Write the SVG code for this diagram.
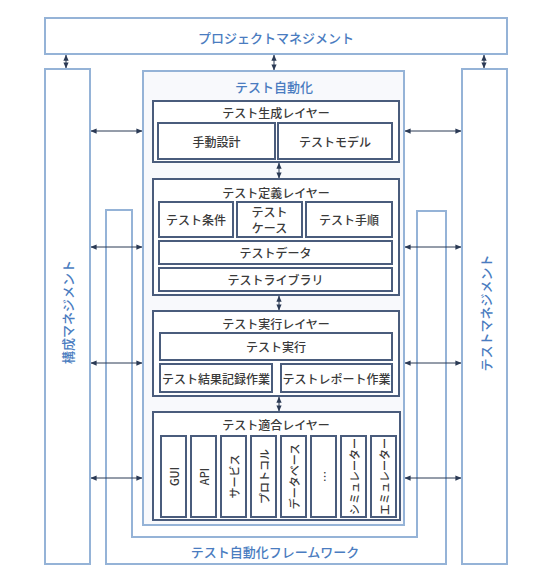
<svg xmlns="http://www.w3.org/2000/svg" width="550" height="579" viewBox="0 0 550 579">
<defs>
<style>
.blue{fill:#fff;stroke:#95b3d7;stroke-width:2}
.auto{fill:#f8f9fc;stroke:#95b3d7;stroke-width:2}
.dark{fill:#fff;stroke:#4a5c7c;stroke-width:2}
.bt{font-family:"Noto Sans CJK JP","Noto Sans",sans-serif;font-size:13px;fill:#4a7cc0;text-anchor:middle;dominant-baseline:central;font-weight:500}
.t{font-family:"Noto Sans CJK JP","Noto Sans",sans-serif;font-size:12px;fill:#3a3a3a;text-anchor:middle;dominant-baseline:central;font-weight:500}
.vt{font-family:"Noto Sans CJK JP","Noto Sans",sans-serif;font-size:11px;fill:#3a3a3a;text-anchor:middle;dominant-baseline:central;font-weight:500}
.c{stroke:#2b3a55;stroke-width:1;fill:none;marker-start:url(#ah);marker-end:url(#ah)}
</style>
<marker id="ah" viewBox="0 0 8 8" refX="7.5" refY="4" markerWidth="6" markerHeight="6" markerUnits="userSpaceOnUse" orient="auto-start-reverse">
<path d="M0,0.5 L8,4 L0,7.5 Z" fill="#2b3a55"/>
</marker>
</defs>
<rect width="550" height="579" fill="#fff"/>

<g id="project-management">
<rect class="blue" x="45" y="18" width="462" height="36"/>
<text class="bt" x="276" y="37">プロジェクトマネジメント</text>
</g>

<g id="configuration-management">
<rect class="blue" x="45" y="69" width="45" height="495"/>
<text class="bt" transform="translate(67,312) rotate(-90)">構成マネジメント</text>
</g>

<g id="test-management">
<rect class="blue" x="462" y="69" width="45" height="495"/>
<text class="bt" transform="translate(485,313) rotate(-90)">テストマネジメント</text>
</g>

<g id="framework">
<path class="blue" d="M106,210 V564 H446 V211 H417 V537 H132 V210 Z"/>
<text class="bt" x="275" y="551">テスト自動化フレームワーク</text>
</g>

<g id="test-automation">
<rect class="auto" x="143" y="71" width="261" height="454"/>
<text class="bt" x="274" y="86">テスト自動化</text>
</g>

<g id="generation-layer">
<rect class="dark" x="153" y="101" width="246" height="61"/>
<text class="t" x="276" y="112">テスト生成レイヤー</text>
<g id="manual-design">
<rect class="dark" x="158" y="123" width="117" height="36"/>
<text class="t" x="216.5" y="141">手動設計</text>
</g>
<g id="test-model">
<rect class="dark" x="278" y="123" width="114" height="36"/>
<text class="t" x="335" y="141">テストモデル</text>
</g>
</g>

<g id="definition-layer">
<rect class="dark" x="153" y="179" width="246" height="116"/>
<text class="t" x="276" y="192">テスト定義レイヤー</text>
<g id="test-conditions">
<rect class="dark" x="159" y="202" width="74" height="35"/>
<text class="t" x="196" y="219.5">テスト条件</text>
</g>
<g id="test-cases">
<rect class="dark" x="237" y="202" width="65" height="35"/>
<text class="t" x="269.5" y="211.5">テスト</text>
<text class="t" x="269.5" y="227.5">ケース</text>
</g>
<g id="test-procedures">
<rect class="dark" x="306" y="202" width="86" height="35"/>
<text class="t" x="349" y="219.5">テスト手順</text>
</g>
<g id="test-data">
<rect class="dark" x="159" y="241" width="233" height="23"/>
<text class="t" x="275.5" y="252.5">テストデータ</text>
</g>
<g id="test-library">
<rect class="dark" x="159" y="268" width="233" height="23"/>
<text class="t" x="275.5" y="279.5">テストライブラリ</text>
</g>
</g>

<g id="execution-layer">
<rect class="dark" x="153" y="311" width="246" height="85"/>
<text class="t" x="276" y="323">テスト実行レイヤー</text>
<g id="test-execution">
<rect class="dark" x="160" y="333" width="232" height="27"/>
<text class="t" x="276" y="346.5">テスト実行</text>
</g>
<g id="result-logging">
<rect class="dark" x="160" y="364" width="112" height="28"/>
<text class="t" x="216" y="378">テスト結果記録作業</text>
</g>
<g id="reporting">
<rect class="dark" x="281" y="364" width="111" height="28"/>
<text class="t" x="336.5" y="378">テストレポート作業</text>
</g>
</g>

<g id="adaptation-layer">
<rect class="dark" x="153" y="412" width="247" height="108"/>
<text class="t" x="276" y="424">テスト適合レイヤー</text>
<g id="gui"><rect class="dark" x="161" y="436" width="25" height="81"/><text class="vt" transform="translate(173.5,476.5) rotate(-90)">GUI</text></g>
<g id="api"><rect class="dark" x="191" y="436" width="25" height="81"/><text class="vt" transform="translate(203.5,476.5) rotate(-90)">API</text></g>
<g id="service"><rect class="dark" x="221" y="436" width="25" height="81"/><text class="vt" transform="translate(233.5,476.5) rotate(-90)">サービス</text></g>
<g id="protocol"><rect class="dark" x="251" y="436" width="25" height="81"/><text class="vt" transform="translate(263.5,476.5) rotate(-90)">プロトコル</text></g>
<g id="database"><rect class="dark" x="281" y="436" width="25" height="81"/><text class="vt" transform="translate(293.5,476.5) rotate(-90)">データベース</text></g>
<g id="etc"><rect class="dark" x="311" y="436" width="25" height="81"/><text class="vt" transform="translate(323.5,476.5) rotate(-90)">…</text></g>
<g id="simulator"><rect class="dark" x="341" y="436" width="25" height="81"/><text class="vt" transform="translate(353.5,476.5) rotate(-90)">シミュレーター</text></g>
<g id="emulator"><rect class="dark" x="371" y="436" width="25" height="81"/><text class="vt" transform="translate(383.5,476.5) rotate(-90)">エミュレーター</text></g>
</g>

<g id="connectors">
<line class="c" x1="66" y1="55" x2="66" y2="68"/>
<line class="c" x1="274" y1="55" x2="274" y2="70"/>
<line class="c" x1="484" y1="55" x2="484" y2="68"/>
<line class="c" x1="279" y1="163" x2="279" y2="178"/>
<line class="c" x1="279" y1="296" x2="279" y2="310"/>
<line class="c" x1="279" y1="397" x2="279" y2="411"/>
<line class="c" x1="91" y1="131" x2="142" y2="131"/>
<line class="c" x1="91" y1="247" x2="142" y2="247"/>
<line class="c" x1="91" y1="363" x2="142" y2="363"/>
<line class="c" x1="91" y1="478" x2="142" y2="478"/>
<line class="c" x1="405" y1="131" x2="461" y2="131"/>
<line class="c" x1="405" y1="247" x2="461" y2="247"/>
<line class="c" x1="405" y1="363" x2="461" y2="363"/>
<line class="c" x1="405" y1="478" x2="461" y2="478"/>
</g>
</svg>
